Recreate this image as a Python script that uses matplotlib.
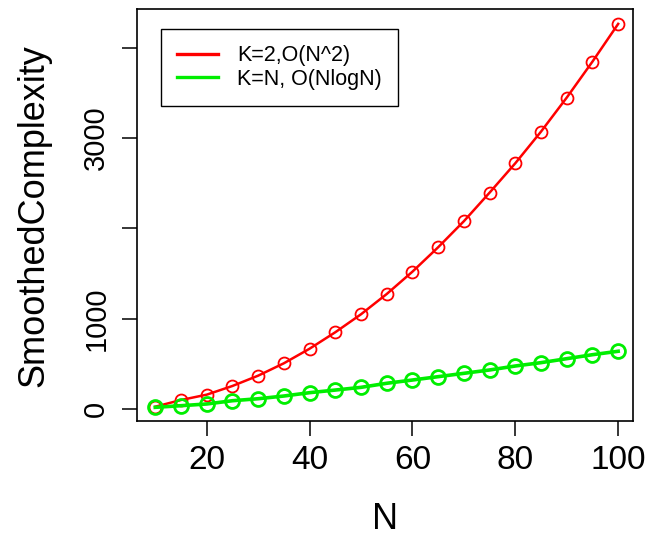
import matplotlib
matplotlib.use("Agg")
import matplotlib.pyplot as plt
import numpy as np

plt.rcParams["font.family"] = ["Liberation Sans", "DejaVu Sans"]
narrow = ["Liberation Sans Narrow", "Liberation Sans", "DejaVu Sans"]

n_vals = [10, 15, 20, 25, 30, 35, 40, 45, 50, 55, 60, 65, 70, 75, 80, 85, 90, 95, 100]
k2_vals = [29, 103, 162, 258, 372, 509, 670, 852, 1051, 1275, 1522, 1792, 2080,
           2396, 2721, 3071, 3447, 3845, 4262]
kn_vals = [22, 40, 59, 95, 117, 147, 184, 213, 243, 288, 324, 361, 398,
           435, 479, 516, 560, 604, 642]
y_ticks = [0, 1000, 2000, 3000, 4000]
y_ticklabels = ["0", "1000", "", "3000", ""]
x_ticks = [20, 40, 60, 80, 100]

fig = plt.figure(figsize=(6.48, 5.38), dpi=100)
ax = fig.add_axes([0.211, 0.2175, 0.766, 0.7655])

ax.plot(n_vals, k2_vals, color="#ff0000", lw=1.8, marker="o", ms=8.6,
        mfc="none", mec="#ff0000", mew=1.3, label="K=2,O(N^2)")
ax.plot(n_vals, kn_vals, color="#00ee00", lw=2.6, marker="o", ms=10,
        mfc="none", mec="#00ee00", mew=2.0, label="K=N, O(NlogN)")

ax.set_xlim(6.4, 102.9)
ax.set_ylim(-129, 4425)
ax.set_xticks(x_ticks)
ax.set_yticks(y_ticks)
ax.set_yticklabels(y_ticklabels, rotation=90, va="center", fontsize=21)
ax.set_xticklabels([str(v) for v in x_ticks], family=narrow, fontsize=24)
ax.tick_params(axis="both", direction="out", length=11, width=1.1, pad=8)
ax.tick_params(axis="x", pad=6)
for s in ax.spines.values():
    s.set_linewidth(1.2)

ax.set_xlabel("N", fontsize=26, family=narrow, labelpad=19)
ax.set_ylabel("SmoothedComplexity", fontsize=26, labelpad=22)

leg = ax.legend(loc="upper left", bbox_to_anchor=(0.049, 0.951),
                borderaxespad=0, fontsize=15.5, handlelength=1.9,
                handletextpad=0.9, borderpad=0.75, labelspacing=0.1,
                fancybox=False, framealpha=1, edgecolor="black")
leg.get_frame().set_linewidth(1.0)
for h in leg.legend_handles:
    h.set_marker("")
    h.set_linewidth(2.4)

fig.savefig("out.png", dpi=100)
